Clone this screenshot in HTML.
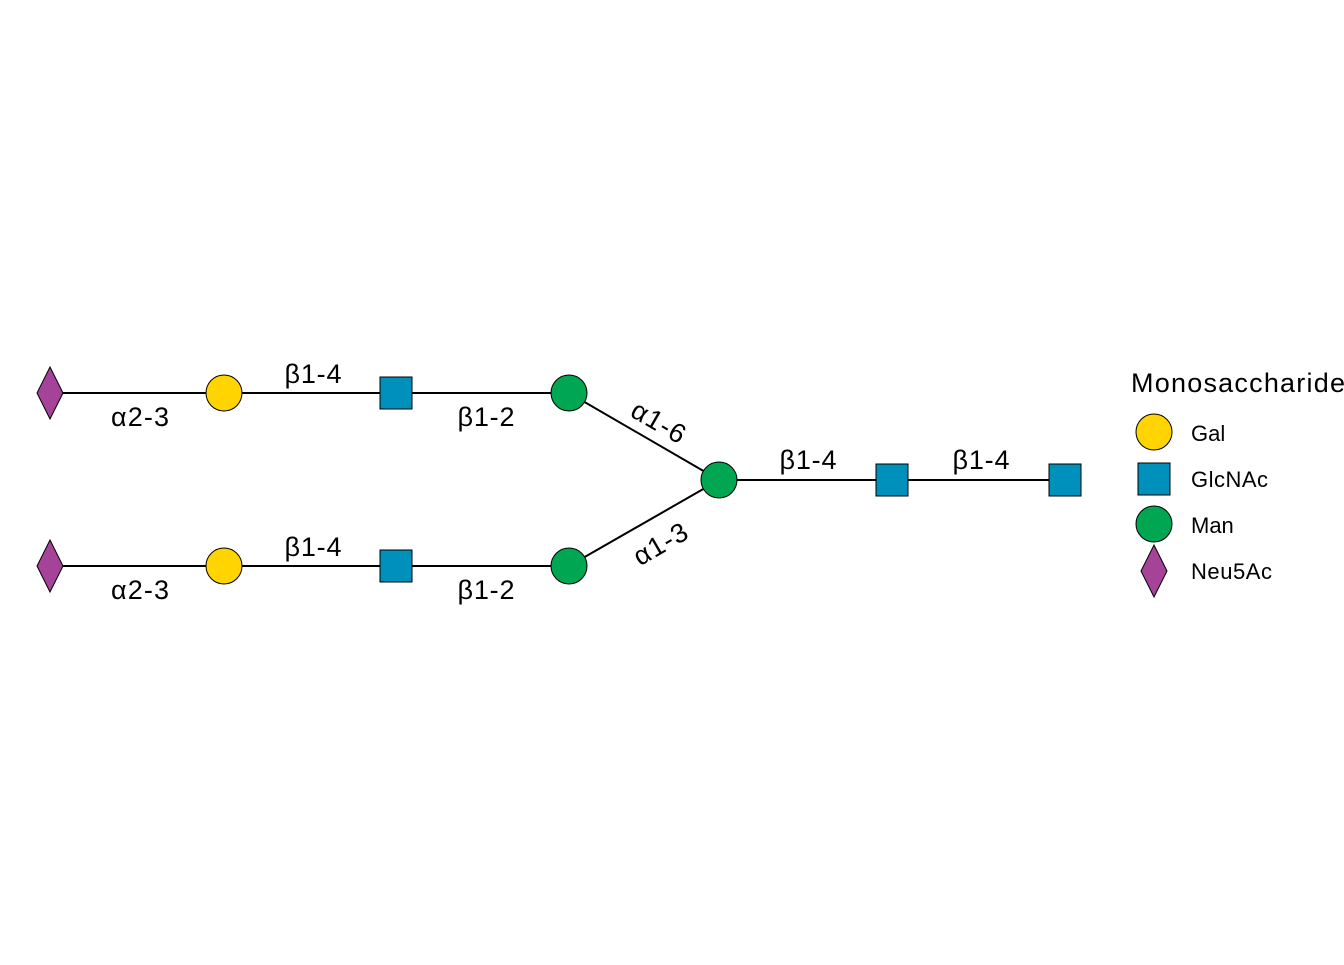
<!DOCTYPE html>
<html><head><style>html,body{margin:0;padding:0;background:#fff}</style></head>
<body>
<svg width="1344" height="960" viewBox="0 0 1344 960" xmlns="http://www.w3.org/2000/svg" font-family="Liberation Sans, Arial, sans-serif">
<g stroke="#000" stroke-width="2">
<line x1="50" y1="393" x2="569" y2="393"/>
<line x1="50" y1="566" x2="569" y2="566"/>
<line x1="569" y1="393" x2="719" y2="480"/>
<line x1="569" y1="566" x2="719" y2="480"/>
<line x1="719" y1="480" x2="1065" y2="480"/>
</g>
<g stroke="#000" stroke-width="1">
<polygon points="50,367 63,393 50,419 37,393" fill="#A54399"/>
<polygon points="50,540 63,566 50,592 37,566" fill="#A54399"/>
<circle cx="224" cy="393" r="18" fill="#FFD400"/>
<circle cx="224" cy="566" r="18" fill="#FFD400"/>
<rect x="380" y="377" width="32" height="32" fill="#0090BC"/>
<rect x="380" y="550" width="32" height="32" fill="#0090BC"/>
<circle cx="569" cy="393" r="18" fill="#00A651"/>
<circle cx="569" cy="566" r="18" fill="#00A651"/>
<circle cx="719" cy="480" r="18" fill="#00A651"/>
<rect x="876" y="464" width="32" height="32" fill="#0090BC"/>
<rect x="1049" y="464" width="32" height="32" fill="#0090BC"/>
</g>
<g font-size="27" fill="#000" text-anchor="middle">
<text x="313" y="383" textLength="57">β1-4</text>
<text x="140" y="426" textLength="58">α2-3</text>
<text x="486" y="426" textLength="57">β1-2</text>
<text x="313" y="556" textLength="57">β1-4</text>
<text x="140" y="599" textLength="58">α2-3</text>
<text x="486" y="599" textLength="57">β1-2</text>
<text x="808" y="469" textLength="57">β1-4</text>
<text x="981" y="469" textLength="57">β1-4</text>
<text x="0" y="0" transform="translate(654,430) rotate(30)" textLength="58">α1-6</text>
<text x="0" y="0" transform="translate(665,552) rotate(-30)" textLength="58">α1-3</text>
</g>
<text x="1131" y="392" font-size="27" textLength="214">Monosaccharide</text>
<g stroke="#000" stroke-width="1">
<circle cx="1154" cy="432" r="18" fill="#FFD400"/>
<rect x="1138" y="463" width="32" height="32" fill="#0090BC"/>
<circle cx="1154" cy="524" r="18" fill="#00A651"/>
<polygon points="1154,545 1167,571 1154,597 1141,571" fill="#A54399"/>
</g>
<g font-size="22">
<text x="1191" y="441">Gal</text>
<text x="1191" y="487" textLength="77">GlcNAc</text>
<text x="1191" y="533">Man</text>
<text x="1191" y="579" textLength="81">Neu5Ac</text>
</g>
</svg>
</body></html>
